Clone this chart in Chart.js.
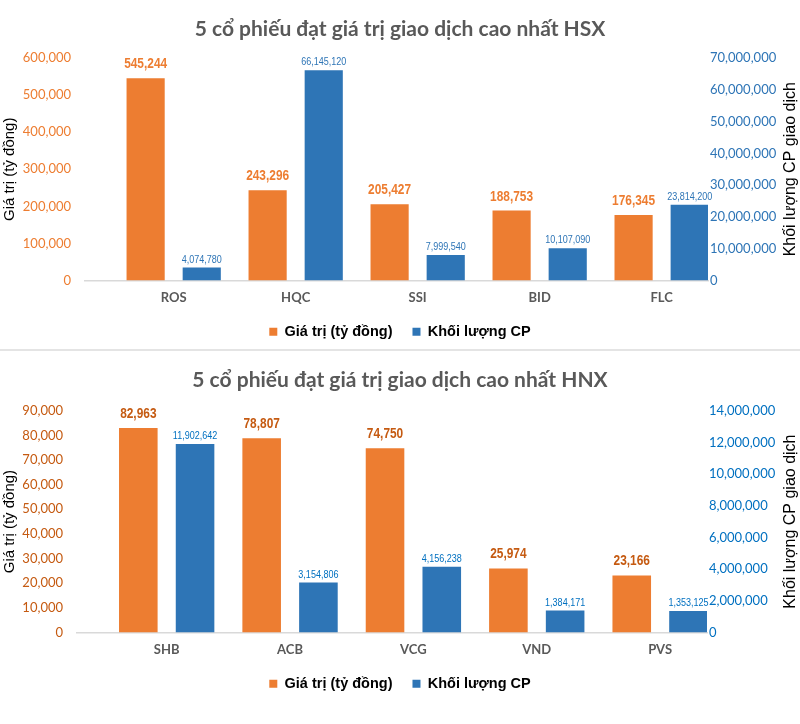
<!DOCTYPE html>
<html><head><meta charset="utf-8">
<script src="https://cdn.jsdelivr.net/npm/chart.js@4.4.1/dist/chart.umd.min.js"></script>
<style>
html,body{margin:0;padding:0;background:#fff;}
#wrap{width:800px;height:724px;overflow:hidden;}
.box{position:relative;width:800px;}
#top{height:349px;}
#sep{height:2px;background:#E4E4E4;}
#bot{height:373px;}
</style></head><body>
<div id="wrap">
<div class="box" id="top"><canvas id="c1"></canvas></div>
<div id="sep"></div>
<div class="box" id="bot"><canvas id="c2"></canvas></div>
</div>
<script>
const seriesNames = ['Giá trị (tỷ đồng)', 'Khối lượng CP'];
const leftAxisTitle = 'Giá trị (tỷ đồng)';
const rightAxisTitle = 'Khối lượng CP giao dịch';

const hsxTitle = '5 cổ phiếu đạt giá trị giao dịch cao nhất HSX';
const hsxCategories = ['ROS', 'HQC', 'SSI', 'BID', 'FLC'];
const hsxValues = [545244, 243296, 205427, 188753, 176345];
const hsxVolumes = [4074780, 66145120, 7999540, 10107090, 23814200];
const hsxLeftTicks = [0, 100000, 200000, 300000, 400000, 500000, 600000];
const hsxRightTicks = [0, 10000000, 20000000, 30000000, 40000000, 50000000, 60000000, 70000000];

const hnxTitle = '5 cổ phiếu đạt giá trị giao dịch cao nhất HNX';
const hnxCategories = ['SHB', 'ACB', 'VCG', 'VND', 'PVS'];
const hnxValues = [82963, 78807, 74750, 25974, 23166];
const hnxVolumes = [11902642, 3154806, 4156238, 1384171, 1353125];
const hnxLeftTicks = [0, 10000, 20000, 30000, 40000, 50000, 60000, 70000, 80000, 90000];
const hnxRightTicks = [0, 2000000, 4000000, 6000000, 8000000, 10000000, 12000000, 14000000];

const fmt = v => Number(v).toLocaleString('en-US');

const valueLabelsPlugin = {
  id: 'valueLabels',
  afterDatasetsDraw(chart, args, opts) {
    const ctx = chart.ctx;
    chart.data.datasets.forEach((ds, di) => {
      const meta = chart.getDatasetMeta(di);
      const st = opts.styles[di];
      meta.data.forEach((bar, i) => {
        ctx.save();
        ctx.font = st.font;
        ctx.fillStyle = st.color;
        ctx.textAlign = 'center';
        ctx.textBaseline = 'middle';
        ctx.translate(bar.x, bar.y - st.gap);
        ctx.scale(st.squeeze, 1);
        ctx.fillText(fmt(ds.data[i].y), 0, 0);
        ctx.restore();
      });
    });
  }
};

const rightTitlePlugin = {
  id: 'rightTitle',
  afterDraw(chart, args, opts) {
    const s = chart.scales.y1;
    const ctx = chart.ctx;
    ctx.save();
    ctx.font = opts.font;
    ctx.fillStyle = opts.color;
    ctx.textAlign = 'center';
    ctx.textBaseline = 'middle';
    ctx.translate(s.right - opts.offset, (s.top + s.bottom) / 2);
    ctx.rotate(-Math.PI / 2);
    ctx.fillText(opts.text, 0, 0);
    ctx.restore();
  }
};

function build(id, p) {
  return new Chart(document.getElementById(id), {
    type: 'bar',
    data: {
      datasets: [
        { label: seriesNames[0], data: p.values.map((v, i) => ({ x: i, y: v })), backgroundColor: '#ED7D31', yAxisID: 'y' },
        { label: seriesNames[1], data: p.volumes.map((v, i) => ({ x: i, y: v })), backgroundColor: '#2E75B6', yAxisID: 'y1' }
      ]
    },
    options: {
      responsive: true, maintainAspectRatio: false, animation: false,
      categoryPercentage: 0.92, barPercentage: 0.68,
      layout: { padding: { left: 0, right: 0, top: 0, bottom: p.padBottom } },
      scales: {
        x: {
          type: 'linear', offset: false, min: -0.727, max: 4.38,
          afterBuildTicks: s => { s.ticks = p.categories.map((c, i) => ({ value: i })); },
          afterFit: s => { s.height = 24; },
          grid: { display: false, drawTicks: false },
          border: { display: true, color: '#D9D9D9', width: 1.5 },
          ticks: { padding: 10, color: '#595959', autoSkip: false, maxRotation: 0,
                   font: { family: 'Lato', weight: 'bold', size: 13 },
                   callback: v => p.categories[v] }
        },
        y: {
          position: 'left', min: p.leftTicks[0], max: p.leftTicks[p.leftTicks.length - 1],
          afterBuildTicks: s => { s.ticks = p.leftTicks.map(v => ({ value: v })); },
          afterFit: s => { s.width = p.leftWidth; },
          grid: { display: false, drawTicks: false }, border: { display: false },
          ticks: { padding: 14, color: p.leftColor, font: { family: 'Lato', size: 13 }, callback: v => fmt(v) },
          title: { display: true, text: leftAxisTitle, color: '#000', font: { family: 'Liberation Sans', size: 15 }, padding: { top: 1, bottom: 4 } }
        },
        y1: {
          position: 'right', min: p.rightTicks[0], max: p.rightTicks[p.rightTicks.length - 1],
          afterBuildTicks: s => { s.ticks = p.rightTicks.map(v => ({ value: v })); },
          afterFit: s => { s.width = p.rightWidth; },
          grid: { display: false, drawTicks: false }, border: { display: false },
          ticks: { padding: 2, color: p.rightColor, font: { family: 'Lato', size: 13 }, callback: v => fmt(v) },
          title: { display: true, text: rightAxisTitle, color: 'rgba(0,0,0,0)', font: { family: 'Liberation Sans', size: 16 }, padding: { top: 0, bottom: 5 } }
        }
      },
      plugins: {
        title: { display: true, text: p.title, color: '#595959', font: { family: 'Lato', weight: 'bold', size: 21 }, padding: { top: 17, bottom: p.titleGap } },
        legend: { position: 'bottom', labels: { boxWidth: 8, boxHeight: 8, padding: 20, color: '#000', font: { family: 'Liberation Sans', weight: 'bold', size: 14.5 } } },
        tooltip: { enabled: false },
        valueLabels: { styles: [
          { font: 'bold 14.5px "Liberation Sans"', color: p.orangeLabel, gap: 14, squeeze: 0.82 },
          { font: '11px "Liberation Sans"', color: p.rightColor, gap: 8, squeeze: 0.82 }
        ] },
        rightTitle: { text: rightAxisTitle, font: '16px "Liberation Sans"', color: '#000', offset: 9.6 }
      }
    },
    plugins: [valueLabelsPlugin, rightTitlePlugin]
  });
}

build('c1', { title: hsxTitle, categories: hsxCategories, values: hsxValues, volumes: hsxVolumes,
  leftTicks: hsxLeftTicks, rightTicks: hsxRightTicks, leftColor: '#ED7D31', rightColor: '#2E75B6',
  orangeLabel: '#ED7D31', padBottom: 0, titleGap: 15.8, leftWidth: 85, rightWidth: 92 });
build('c2', { title: hnxTitle, categories: hnxCategories, values: hnxValues, volumes: hnxVolumes,
  leftTicks: hnxLeftTicks, rightTicks: hnxRightTicks, leftColor: '#C55A11', rightColor: '#0070C0',
  orangeLabel: '#C55A11', padBottom: 23, titleGap: 17.5, leftWidth: 77, rightWidth: 93 });
</script>
</body></html>
